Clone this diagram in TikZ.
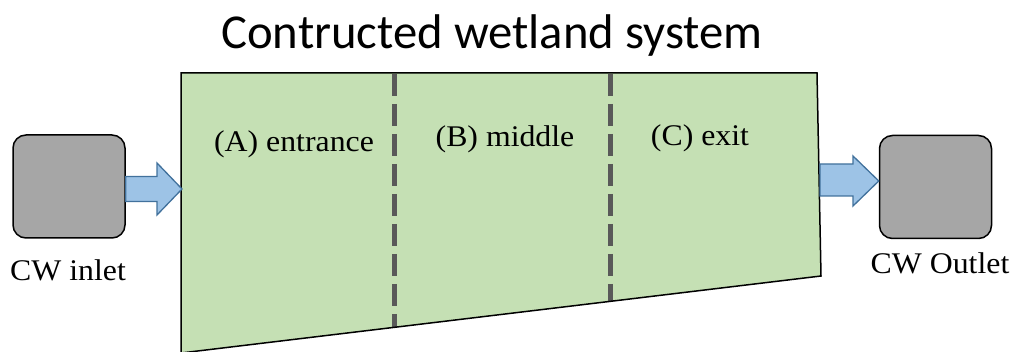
\documentclass[tikz,border=0pt]{standalone}
\usepackage{fontspec}
\setmainfont{Liberation Serif}
\newfontfamily\titlefont{Carlito}
\definecolor{wetgreen}{HTML}{C5E0B4}
\definecolor{boxgray}{HTML}{A6A6A6}
\definecolor{arrowfill}{HTML}{9DC3E6}
\definecolor{arrowedge}{HTML}{41719C}
\definecolor{dashgray}{HTML}{595959}
\tikzset{
  tank/.style={draw=black, line width=1.5pt, fill=boxgray, rounded corners=13pt, minimum width=112pt, minimum height=103pt, inner sep=0pt},
  flowarrow/.style={draw=arrowedge, line width=1.3pt, fill=arrowfill, line join=miter},
  zoneline/.style={draw=dashgray, line width=5pt, dash pattern=on 22pt off 8pt},
  lbl/.style={inner sep=0pt, anchor=base, font=\fontsize{30}{34}\selectfont},
}
\newcommand{\wide}[1]{\scalebox{1.06}[1]{#1}}
\begin{document}
\begin{tikzpicture}[x=1pt,y=-1pt]
\useasboundingbox (0,0) rectangle (1015,352);
% wetland basin
\coordinate (tl) at (181,73);
\coordinate (tr) at (817,73);
\coordinate (br) at (821,276);
\coordinate (bl) at (181,353);
\fill[wetgreen] (tl) -- (tr) -- (br) -- (bl) -- cycle;
\coordinate (d1t) at (394,74);
\coordinate (d1b) at (394,327);
\coordinate (d2t) at (610,74);
\coordinate (d2b) at (610,301);
\draw[zoneline] (d1t) -- (d1b);
\draw[zoneline] (d2t) -- (d2b);
\draw[line width=1.5pt, line join=miter] (tl) -- (tr) -- (br) -- (bl) -- cycle;
% tanks
\node[tank] (inlet) at (69,186.5) {};
\node[tank] (outlet) at (935.5,187) {};
% arrows
\coordinate (ain) at (inlet.east |- 0,189);
\coordinate (tipin) at (182,189);
\draw[flowarrow] ([shift={(0,-12.5)}]ain) -- (157,176.5) -- (157,163) -- (tipin) -- (157,215) -- (157,201.5) -- ([shift={(0,12.5)}]ain) -- cycle;
\coordinate (aout) at (820,180);
\coordinate (tipout) at (outlet.west |- 0,181);
\draw[flowarrow] ([shift={(0,-16)}]aout) -- (853,164) -- (853,156) -- (tipout) -- (853,206) -- (853,196) -- ([shift={(0,16)}]aout) -- cycle;
% texts
\node[inner sep=0pt, anchor=base, font=\titlefont\fontsize{48.7}{56}\selectfont] (title) at (492,49) {Contructed wetland system};
\node[lbl] (za) at (294,152) {\wide{(A) entrance}};
\node[lbl] (zb) at (505,147) {\wide{(B) middle}};
\node[lbl] (zc) at (700,146) {\wide{(C) exit}};
\node[lbl] (tin) at (68,281) {\wide{CW inlet}};
\node[lbl] (tout) at (940,274) {\wide{CW Outlet}};
\end{tikzpicture}
\end{document}
